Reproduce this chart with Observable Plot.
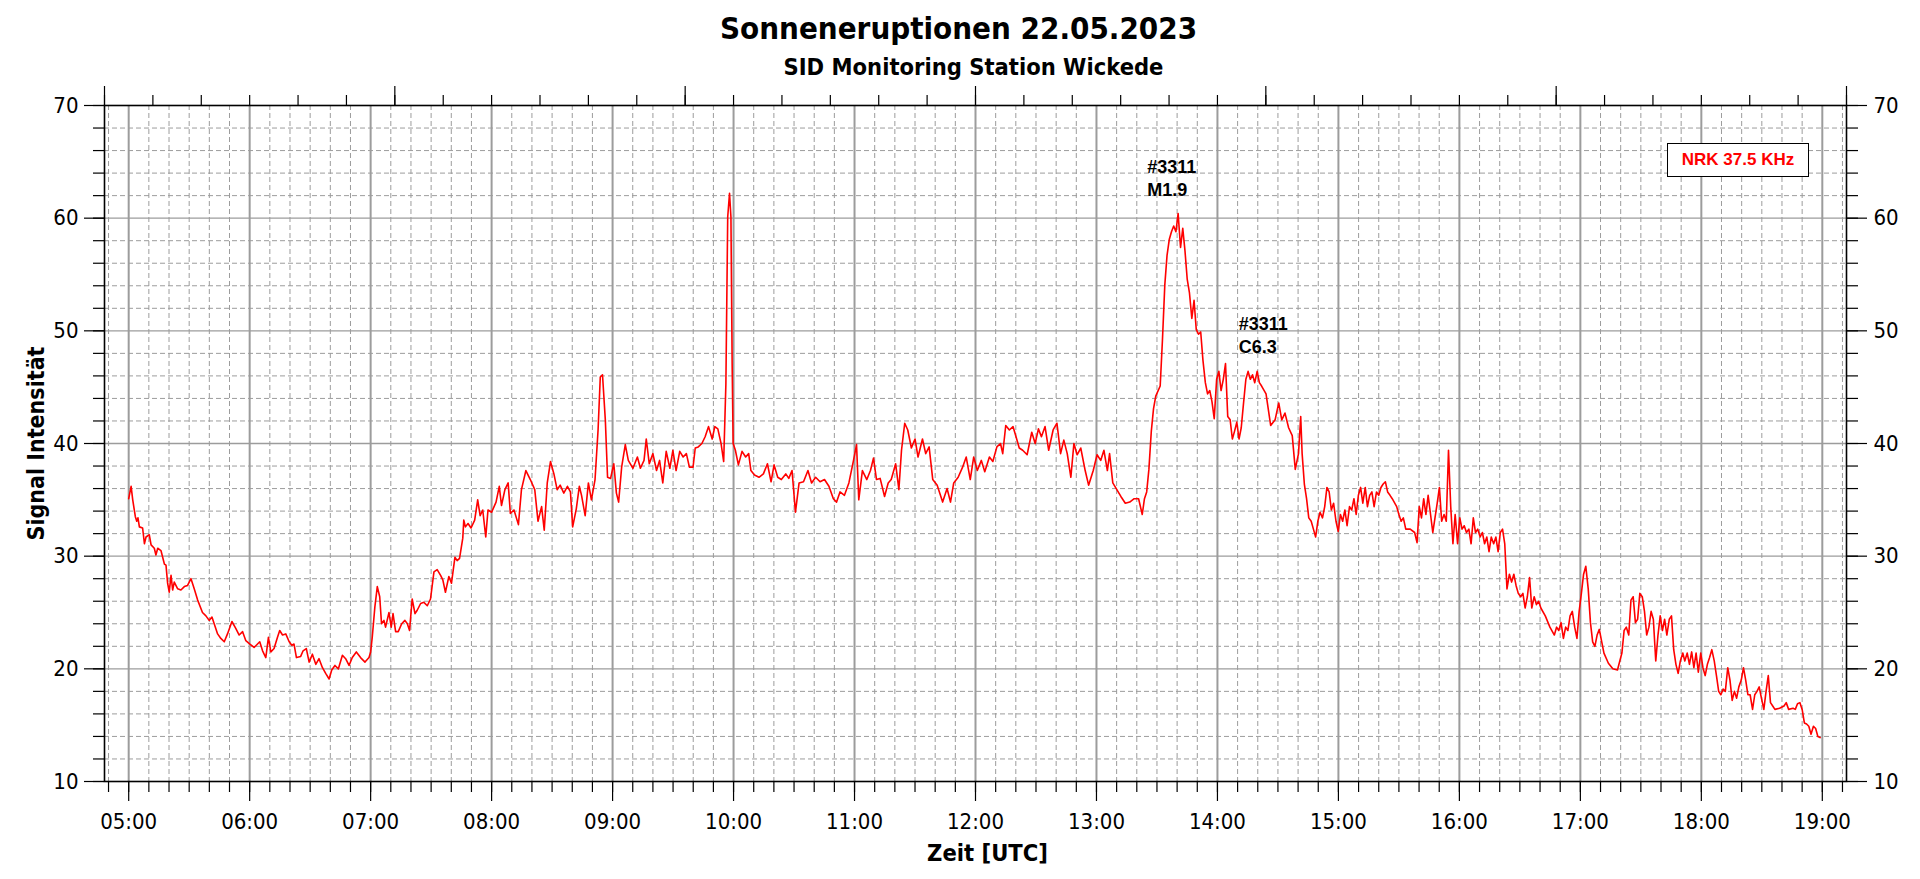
<!DOCTYPE html>
<html>
<head>
<meta charset="utf-8">
<script src="https://cdn.jsdelivr.net/npm/d3@7"></script>
<script src="https://cdn.jsdelivr.net/npm/@observablehq/plot@0.6"></script>
<style>
html, body { margin: 0; padding: 0; background: #fff; }
#wrap { position: relative; width: 1920px; height: 879px; overflow: hidden; background: #fff; }
#header { position: relative; height: 80px; }
.title { position: absolute; left: 0; width: 1920px; box-sizing: border-box; text-align: center;
  font-family: "DejaVu Sans Condensed", "DejaVu Sans", sans-serif; font-stretch: condensed;
  font-weight: bold; line-height: 1; white-space: nowrap; color: #000; }
#t1 { top: 13px; font-size: 31px; padding-right: 3px; }
#t2 { top: 56px; font-size: 23.5px; padding-left: 27px; }
#legend { position: absolute; left: 1667px; top: 143px; width: 142px; height: 34px; box-sizing: border-box;
  border: 1.5px solid #000; background: #fff; color: #f00;
  font: bold 17px "Liberation Sans", Arial, sans-serif;
  display: flex; align-items: center; justify-content: center; }
#chart svg { display: block; }
</style>
</head>
<body>
<div id="wrap">
  <div id="header">
    <div class="title" id="t1">Sonneneruptionen 22.05.2023</div>
    <div class="title" id="t2">SID Monitoring Station Wickede</div>
  </div>
  <div id="chart"></div>
  <div id="legend">NRK 37.5 KHz</div>
</div>
<script>
// ---- Data: minutes since 00:00 UTC and signal intensity ----
const minutes = [
300,301.2,302,303.3,304,304.6,305.3,306.9,307.8,308.6,310.2,311.1,312.7,313.5,314.4,316,317.7,318.5,319.3,320.1,
321,321.8,322.6,324.3,325.9,327.6,329.2,330.9,332.5,334.2,336.6,338.3,339.9,341.3,342.4,344.1,345.7,347.4,349,351.2,
353.1,354.8,356.5,358.1,360.1,362.2,363.9,365,366.4,368,369.3,370.5,372.1,373.8,374.9,376.3,377.9,379.6,380.9,382,
383.2,385.3,386.5,388.1,389.5,391.1,392.8,394.4,396.1,397.7,399.4,400.7,402.3,404,406,407.6,409.3,410.9,412.9,415,
417.2,419.2,420,420.8,422.1,423.3,424.5,425.4,426.6,427.4,429.1,430.2,431.1,432.4,433.7,435.4,437,438.2,439.3,440.6,
442,443.1,444.8,446.4,448.1,449.7,451.4,453,454.7,455.8,457.1,458.8,460.1,461.8,462.9,464.1,465.7,466.2,467,
468.3,469.8,471.6,473.1,474.3,475.6,477.1,478.2,480,482.2,483.8,484.9,486.6,488.2,489.3,491.1,493.3,494.8,497,499.2,
501.4,503,504.8,506.1,507.6,509.2,510.9,512.5,514,515.8,517.6,519.1,520.2,522,523.5,524.6,526.4,528,529.5,531.3,
532.8,533.9,535,536.4,537.5,539,540.6,541.9,543,544.5,546.3,547.8,550.1,552.3,553.8,555.6,556.7,558.2,560,561.8,
563.3,564.9,566.6,568.4,569.9,571.5,573.3,575,576.6,578.1,579.9,581,582.5,584.3,585.9,587.6,589.4,590.7,592.2,593.8,
595.1,596.2,597.1,598,598.7,599.3,599.8,600.9,602.4,604.2,606,607.5,608.6,610.4,612.6,614.8,616.8,618.6,620.1,621.9,
623.7,625.9,627.4,629,630.7,632.5,634.7,636.9,638.7,640.7,642.9,645.1,647.3,649.5,651.1,652.8,655,657.2,659.5,661,
662.1,663.9,666.1,667.9,669.4,670.9,672.7,674.9,676.7,678.2,680.4,682,683.3,684.9,686.4,688.2,690,691.5,693.7,695.3,
697,698.8,701,703.7,705.9,707.6,709.2,711.4,713.6,715.4,717.4,719.1,720.9,722.9,724.6,726.9,728.6,730.6,732.4,733.5,
735,736.8,738.6,740.1,741.7,743.4,745.6,747.9,749.6,751.2,752.7,754.5,756.3,758.5,760.4,762.2,763.8,765.5,767.3,768.8,
770.4,772.2,774.4,776.1,778.4,780.3,782.1,783.7,785.4,786.5,788.1,789.8,792.1,794.3,796.5,798.7,800.9,
802.7,803.8,804.9,806,807.2,808.3,809.4,811.6,812.7,813.9,815,816.1,817.2,818.3,819.4,820.5,821.7,822.8,823.9,825,
826.1,827.3,828.4,829.5,830.6,831.7,832.8,834,835.1,836.2,837.3,838.4,839.6,840.7,841.8,842.9,844,845.1,846.3,847.4,
848.5,849.6,850.7,851.8,853,854.1,855.2,856.3,857.4,858.5,859.7,860.8,861.9,864.1,866.4,868.6,870.4,871.9,873.5,875.3,
877.1,878.6,880.2,881.3,882,883.1,884.2,885.3,886.5,887.6,888.7,889.8,890.9,892.1,893.2,894.3,895.4,896.5,897.6,898.8,
899.9,901,902.1,903.2,904.3,905.5,906.6,907.7,908.8,909.9,911,912.1,913.3,914.4,915.5,916.6,917.7,918.9,920,921.1,
922.2,923.3,924.4,925.6,926.7,928.9,930,931.1,932.2,933.4,935.6,937.8,939,940.1,941.2,942.3,943.4,944.5,945.7,946.8,
947.9,949,950.1,951.2,952.4,953.5,954.6,955.7,956.8,957.9,959.1,960.2,961.3,962.4,963.5,964.7,965.8,966.9,968,969.1,
970.3,971.4,972.5,973.6,974.7,975.8,977,978.1,979.2,980.3,981.4,982.5,983.6,984.8,985.9,987,988.1,989.2,990.4,991.5,
992.6,993.7,994.8,995.9,997.1,998.2,999.3,1000.4,1002.6,1004.9,1007.1,1008.2,1009.3,1010.4,1011.6,1012.7,1013.8,1014.9,1016,1017.2,
1018.3,1019.4,1020.5,1021.6,1022.7,1023.9,1025,1026.1,1027.2,1028.3,1029.4,1030.6,1031.7,1033.9,1036.1,1038.4,1040.6,1041.7,1042.8,1044,
1045.1,1046.2,1047.3,1048.4,1049.5,1050.7,1051.8,1052.9,1054,1055.1,1056.2,1057.4,1058.5,1059.6,1060.7,1061.8,1062.9,1064.1,1065.2,1066.3,
1067.4,1068.5,1069.6,1070.8,1071.8,1073,1074.1,1075.2,1076.3,1077.4,1078.5,1079.7,1080.8,1081.9,1083,1084.1,1085.2,1086.4,1087.5,1088.6,
1089.7,1090.8,1091.9,1093.1,1094.2,1095.3,1096.4,1097.5,1098.6,1099.8,1100.9,1102,1103.1,1104.2,1105.4,1106.5,1107.6,1108.7,1109.8,1111,
1112.1,1113.2,1114.3,1115.4,1116.5,1118.8,1121,1122.1,1123.3,1125.5,1126.6,1127.7,1128.9,1130,1131.1,1132.2,1133.3,1134.4,1135.6,1136.7,
1137.8,1138.9
];
const intensity = [
35.1,36.2,35.0,33.5,33.1,33.4,32.6,32.5,31.1,31.7,31.9,31.0,30.7,30.1,30.7,30.5,29.3,29.2,27.6,26.8,
28.3,27.0,27.7,27.1,27.0,27.3,27.4,28.0,27.1,26.1,25.0,24.7,24.3,24.6,24.0,23.1,22.7,22.4,23.1,24.2,
23.6,23.0,23.3,22.5,22.2,21.9,22.2,22.4,21.6,21.0,22.8,21.5,21.8,22.8,23.4,23.0,23.1,22.4,22.1,22.2,
21.0,21.1,21.6,21.8,20.6,21.3,20.4,20.9,20.1,19.6,19.1,19.9,20.3,20.0,21.2,20.9,20.3,21.0,21.5,21.0,
20.6,21.0,21.5,22.8,25.5,27.3,26.4,24.0,24.3,23.7,25.0,23.7,24.9,23.3,23.3,24.0,24.3,24.0,23.4,26.2,
24.9,25.2,25.8,25.9,25.6,26.2,28.6,28.8,28.3,27.9,26.8,28.2,27.6,29.9,29.6,29.8,31.6,33.2,32.6,
32.9,32.5,33.2,35.0,33.6,34.1,31.7,34.1,33.9,34.8,36.2,34.5,35.9,36.5,33.8,34.1,32.8,35.9,37.6,36.8,
35.9,33.1,34.4,32.3,36.5,38.4,37.3,35.9,36.3,35.6,36.2,35.7,32.6,34.2,36.2,35.4,33.6,36.5,35.0,36.8,
41.2,45.9,46.1,42.1,37.0,36.9,38.2,35.6,34.8,37.9,39.9,38.5,37.8,38.8,37.8,38.5,40.4,38.2,39.1,37.6,
38.5,36.5,39.3,37.8,39.4,37.6,39.3,38.8,39.1,37.9,37.9,39.6,39.7,40.0,40.6,41.5,40.4,41.5,41.3,40.0,
38.4,45.3,60.1,62.2,60.1,47.1,40.0,39.4,38.1,39.3,38.8,39.1,37.6,37.2,37.0,37.3,38.2,36.6,38.1,37.0,
36.8,37.3,36.9,37.6,33.9,36.5,36.6,37.6,36.5,37.0,36.6,36.8,36.2,35.1,34.8,35.7,35.4,36.5,38.5,39.9,
35.0,37.6,36.8,37.6,38.7,36.8,36.9,35.3,36.5,36.8,38.2,35.9,39.4,41.8,41.2,39.6,40.4,38.8,40.4,39.1,
39.7,36.8,36.3,34.8,36.0,34.8,36.5,37.0,37.9,38.8,36.8,38.8,37.6,38.5,37.5,38.8,38.4,39.7,40.0,39.1,
41.6,41.2,41.5,40.6,39.6,39.4,39.0,41.0,40.0,41.3,40.6,41.5,39.4,41.2,41.8,39.1,40.3,39.1,37.0,40.0,
39.0,39.6,37.6,36.3,37.6,39.0,38.5,39.4,37.6,39.1,36.5,36.0,35.3,34.7,34.8,35.1,35.1,
33.7,35.1,35.7,37.7,41.1,43.1,44.2,45.1,49.1,54.1,56.7,58.1,58.8,59.3,58.8,60.4,57.4,59.1,57.1,54.6,
53.4,51.1,52.7,50.1,49.7,49.9,47.4,45.4,44.4,44.7,43.7,42.2,45.7,46.4,44.7,45.7,47.1,42.4,42.1,40.4,
41.1,41.9,40.4,41.4,43.7,45.7,46.4,45.7,46.1,45.4,46.4,45.4,45.1,44.4,41.6,42.1,43.6,42.1,42.7,41.4,
40.7,37.7,39.1,42.4,39.1,36.4,35.1,33.4,33.1,32.4,31.7,33.1,33.9,33.4,34.4,36.1,35.7,34.1,34.7,33.1,
32.2,33.7,33.1,34.1,32.7,34.4,34.1,35.1,33.7,35.4,36.1,34.7,36.1,34.4,35.4,35.7,34.4,35.7,35.4,36.1,
36.4,36.6,35.7,35.4,35.1,34.4,33.7,33.1,33.4,32.4,32.4,32.1,31.2,34.4,33.4,35.1,33.7,35.4,33.7,32.1,
33.4,34.7,36.1,33.1,33.7,33.1,39.4,34.4,31.1,33.7,31.1,33.4,32.4,32.7,32.1,32.4,31.1,33.4,32.1,32.4,
31.7,32.1,31.1,31.7,30.4,31.7,31.1,31.7,30.4,32.1,32.4,31.1,27.1,28.4,27.7,28.4,27.4,26.7,26.4,26.7,
25.4,26.4,28.1,25.4,26.4,25.7,26.0,25.4,24.7,23.7,23.0,23.7,23.4,24.1,22.7,23.7,23.4,24.7,25.1,23.7,
22.7,25.1,26.7,28.4,29.1,27.1,24.1,22.4,22.0,23.0,23.5,22.4,21.4,20.5,20.0,19.9,21.4,23.4,23.7,23.0,
26.1,26.4,24.1,24.4,26.7,26.4,25.1,23.0,23.7,25.1,24.4,20.7,23.0,24.7,23.4,24.4,23.0,24.4,24.7,21.7,
20.4,19.6,20.7,21.4,20.7,21.4,20.4,21.5,20.1,21.4,19.7,21.4,20.1,19.4,20.4,21.0,21.7,20.7,19.4,18.0,
17.7,18.2,18.0,20.1,19.0,17.2,18.0,17.4,18.4,19.0,20.1,19.0,17.7,17.7,16.4,17.7,18.0,18.4,17.4,16.4,
18.0,19.4,17.0,16.7,16.4,16.5,16.7,17.0,16.4,16.5,16.4,16.9,17.0,16.4,15.2,15.1,14.9,14.2,14.9,14.7,
14.0,13.9
];

// ---- Axes / ticks ----
const hourLabels = ["05:00","06:00","07:00","08:00","09:00","10:00","11:00","12:00","13:00","14:00","15:00","16:00","17:00","18:00","19:00"];
const yMajor = [10, 20, 30, 40, 50, 60, 70];
const timeDomain = [288, 1152];   // 04:48 .. 19:12
const valueDomain = [10, 70];

// ---- Flare annotations ----
const annotTime  = [805.2, 850.6];
const annotValue = [61.95, 48.04];
const annotText  = ["#3311\nM1.9", "#3311\nC6.3"];

const xLabel = "Zeit [UTC]";
const yLabel = "Signal Intensität";

// derived
const hourTicks = hourLabels.map(s => +s.slice(0, 2) * 60);
const labelOf = new Map(hourTicks.map((t, i) => [t, hourLabels[i]]));
const minorX10 = d3.range(timeDomain[0] + 2, timeDomain[1], 10);           // every 10 min
const minorXGrid = minorX10.filter(t => t % 60 !== 0);
const topMinor = d3.range(timeDomain[0], timeDomain[1] + 1, 24);           // every 24 min
const topMajor = d3.range(timeDomain[0], timeDomain[1] + 1, 144);
const yMinor = d3.range(valueDomain[0], valueDomain[1] + 1, 2);
const yMinorGrid = yMinor.filter(v => v % 10 !== 0);
const yMajorGrid = yMajor.filter(v => v > valueDomain[0] && v < valueDomain[1]);
const data = minutes.map((t, i) => ({t, v: intensity[i]}));
const annots = annotText.map((s, i) => ({t: annotTime[i], v: annotValue[i], s}));

const gridColor = "#9c9c9c";
const font = "'DejaVu Sans Condensed', 'DejaVu Sans', sans-serif";
const tickOnly = {fill: "none", stroke: "#000", label: null, strokeWidth: 1.2};

const chart = Plot.plot({
  width: 1920,
  height: 799,
  marginTop: 25,
  marginBottom: 98,
  marginLeft: 104,
  marginRight: 74,
  x: {type: "linear", domain: timeDomain},
  y: {type: "linear", domain: valueDomain},
  style: {fontFamily: font, fontStretch: "condensed", fontSize: "22px", color: "#000", background: "#fff", overflow: "visible"},
  marks: [
    Plot.gridX({ticks: minorXGrid, stroke: gridColor, strokeOpacity: 1, strokeWidth: 1, strokeDasharray: "5,3"}),
    Plot.gridY({ticks: yMinorGrid, stroke: gridColor, strokeOpacity: 1, strokeWidth: 1, strokeDasharray: "5,3"}),
    Plot.gridY({ticks: yMajorGrid, stroke: gridColor, strokeOpacity: 1, strokeWidth: 1.3}),
    Plot.gridX({ticks: hourTicks, stroke: gridColor, strokeOpacity: 1, strokeWidth: 2}),
    Plot.line(data, {x: "t", y: "v", stroke: "#f00", strokeWidth: 1.6}),
    Plot.frame({stroke: "#000", strokeWidth: 1.6}),
    // bottom axis
    Plot.axisX({anchor: "bottom", ticks: minorX10, tickSize: 11, ...tickOnly}),
    Plot.axisX({anchor: "bottom", ticks: hourTicks, tickSize: 20, tickPadding: 12, label: null, strokeWidth: 1.2,
      stroke: "#000", fill: "#000", tickFormat: t => labelOf.get(t), fontSize: 22}),
    // top axis
    Plot.axisX({anchor: "top", ticks: topMinor, tickSize: 11, ...tickOnly}),
    Plot.axisX({anchor: "top", ticks: topMajor, tickSize: 20, ...tickOnly}),
    // left axis
    Plot.axisY({anchor: "left", ticks: yMinor, tickSize: 11, ...tickOnly}),
    Plot.axisY({anchor: "left", ticks: yMajor, tickSize: 20, tickPadding: 6, label: null, strokeWidth: 1.2,
      stroke: "#000", fill: "#000", fontSize: 22}),
    // right axis
    Plot.axisY({anchor: "right", ticks: yMinor, tickSize: 11, ...tickOnly}),
    Plot.axisY({anchor: "right", ticks: yMajor, tickSize: 20, tickPadding: 7, label: null, strokeWidth: 1.2,
      stroke: "#000", fill: "#000", fontSize: 22}),
    // axis titles
    Plot.text([yLabel], {text: d => d, frameAnchor: "left", textAnchor: "middle", lineAnchor: "middle", dx: -68, rotate: -90,
      fontSize: 23, fontWeight: "bold", fill: "#000"}),
    Plot.text([xLabel], {text: d => d, frameAnchor: "bottom", textAnchor: "middle", dx: 12, dy: 79, lineAnchor: "bottom",
      fontSize: 23.5, fontWeight: "bold", fill: "#000"}),
    // flare labels
    Plot.text(annots, {x: "t", y: "v", text: "s", textAnchor: "start", lineAnchor: "bottom", lineHeight: 1.28,
      fontFamily: "'Liberation Sans', Arial, sans-serif", fontStretch: "normal", fontWeight: "bold", fontSize: 18, fill: "#000"})
  ]
});
document.getElementById("chart").appendChild(chart);
</script>
</body>
</html>
